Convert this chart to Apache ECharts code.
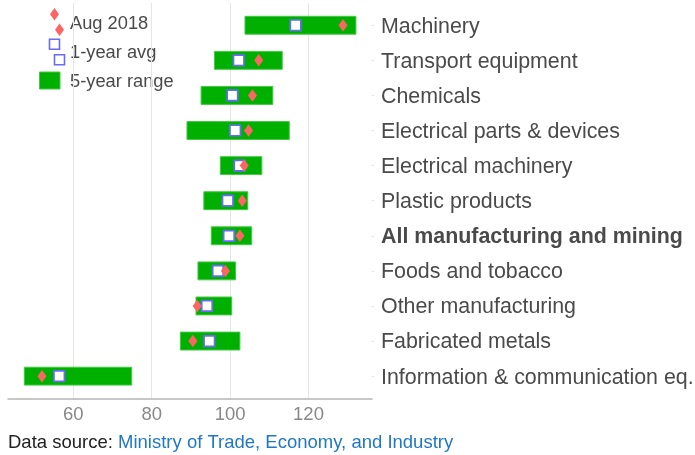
<!DOCTYPE html>
<html>
<head>
<meta charset="utf-8">
<script src="https://cdn.jsdelivr.net/npm/echarts@6/dist/echarts.min.js"></script>
<style>html,body{margin:0;padding:0;background:#fff}#c{width:695px;height:455px}</style>
</head>
<body>
<div id="c"></div>
<script>
const categories = ['Machinery','Transport equipment','Chemicals','Electrical parts & devices','Electrical machinery','Plastic products','All manufacturing and mining','Foods and tobacco','Other manufacturing','Fabricated metals','Information & communication eq.'];
const rangeLow  = [103.8, 96.0, 92.6, 89.0, 97.5, 93.3, 95.2, 91.8, 91.3, 87.3, 47.5];
const rangeHigh = [132.1, 113.3, 110.9, 115.1, 108.1, 104.5, 105.5, 101.4, 100.4, 102.5, 74.9];
const avg1y     = [116.7, 102.2, 100.6, 101.3, 102.4, 99.4, 99.7, 96.9, 94.1, 94.7, 56.4];
const aug2018   = [128.8, 107.3, 105.7, 104.7, 103.6, 103.1, 102.5, 98.8, 91.6, 90.5, 52.0];
const legendLabels = ['Aug 2018', '1-year avg', '5-year range'];
const boldCategory = 'All manufacturing and mining';

const X_MIN = 43.34, X_MAX = 136.2;
const FONT = '"Liberation Sans", Arial, Helvetica, sans-serif';
const GREEN = '#00b000', RED = '#ff6464', BLUE = '#6a6aff';

const chart = echarts.init(document.getElementById('c'), null, {renderer: 'canvas'});

const rangeData = categories.map((c, i) => [i, rangeLow[i], rangeHigh[i]]);

function diamond(cx, cy, w, h) {
  return {type: 'polygon', shape: {points: [[cx, cy - h/2], [cx + w/2, cy], [cx, cy + h/2], [cx - w/2, cy]]}, style: {fill: RED}};
}
function square(cx, cy, s) {
  return {type: 'rect', shape: {x: cx - s/2, y: cy - s/2, width: s, height: s}, style: {fill: '#fff', stroke: BLUE, lineWidth: 1.6}};
}

const option = {
  animation: false,
  textStyle: {fontFamily: FONT},
  grid: [
    {left: 8, right: 323, top: 7.7, bottom: 61.3, containLabel: false, outerBoundsMode: 'none'},
    {left: 8, right: 323, top: 3, bottom: 56.5, containLabel: false, outerBoundsMode: 'none'}
  ],
  xAxis: [
    {gridIndex: 0, type: 'value', min: X_MIN, max: X_MAX, show: false},
    {gridIndex: 1, type: 'value', min: X_MIN, max: X_MAX, splitNumber: 5,
     axisLine: {show: true, onZero: false, lineStyle: {color: '#b5b5b5', width: 1.5}},
     axisTick: {show: false},
     axisLabel: {color: '#888', fontSize: 18.5, fontFamily: FONT, margin: 7, showMinLabel: false, showMaxLabel: false},
     splitLine: {show: true, showMinLine: false, showMaxLine: false, lineStyle: {color: '#e6e6e6', width: 1}}}
  ],
  yAxis: [
    {gridIndex: 0, type: 'category', data: categories, inverse: true, position: 'right',
     axisLine: {show: false},
     axisTick: {show: true, length: 1.5, lineStyle: {color: '#d8d8d8'}, alignWithLabel: true},
     axisLabel: {color: '#4a4a4a', fontSize: 21.4, fontFamily: FONT, margin: 9, padding: [3, 0, 0, 0],
       formatter: v => v === boldCategory ? '{b|' + v + '}' : v,
       rich: {b: {fontWeight: 'bold', fontSize: 21.4, color: '#4a4a4a', fontFamily: FONT}}},
     splitLine: {show: false}},
    {gridIndex: 1, type: 'value', show: false, min: 0, max: 1}
  ],
  series: [
    {
      name: legendLabels[2], type: 'custom', xAxisIndex: 0, yAxisIndex: 0,
      data: rangeData,
      encode: {y: 0, x: [1, 2]},
      renderItem: function (params, api) {
        const idx = api.value(0);
        const p0 = api.coord([api.value(1), idx]);
        const p1 = api.coord([api.value(2), idx]);
        const h = api.size([0, 1])[1] * 0.51;
        return {type: 'rect', shape: {x: p0[0], y: p0[1] - h/2, width: p1[0] - p0[0], height: h},
                style: {fill: GREEN, stroke: '#45c845', lineWidth: 1}};
      },
      z: 2
    },
    {
      name: legendLabels[1], type: 'scatter', xAxisIndex: 0, yAxisIndex: 0,
      data: avg1y.map((v, i) => [v, i]),
      symbol: 'rect', symbolSize: 10.5,
      itemStyle: {color: '#fff', borderColor: BLUE, borderWidth: 1.7, opacity: 1},
      z: 3
    },
    {
      name: legendLabels[0], type: 'scatter', xAxisIndex: 0, yAxisIndex: 0,
      data: aug2018.map((v, i) => [v, i]),
      symbol: 'diamond', symbolSize: [9, 12.5],
      itemStyle: {color: RED, opacity: 1},
      z: 4
    }
  ],
  title: {
    left: 8, top: 433, padding: 0,
    text: '{a|Data source: }{b|Ministry of Trade, Economy, and Industry}',
    textStyle: {fontWeight: 'normal', rich: {
      a: {color: '#222', fontSize: 18.5, fontFamily: FONT, fontWeight: 'normal'},
      b: {color: '#1f78c1', fontSize: 18.5, fontFamily: FONT, fontWeight: 'normal'}
    }}
  },
  graphic: [
    diamond(54.5, 14.3, 9, 12.5),
    diamond(59.5, 29.7, 9, 12.5),
    square(54.5, 44.3, 10),
    square(59.5, 59.8, 10),
    {type: 'rect', shape: {x: 39.5, y: 72, width: 20.5, height: 17}, style: {fill: GREEN, stroke: '#45c845', lineWidth: 1}},
    {type: 'text', x: 70, y: 24, style: {text: legendLabels[0], fill: '#4a4a4a', font: '18.3px ' + FONT, verticalAlign: 'middle'}},
    {type: 'text', x: 70, y: 53, style: {text: legendLabels[1], fill: '#4a4a4a', font: '18.3px ' + FONT, verticalAlign: 'middle'}},
    {type: 'text', x: 70, y: 81.5, style: {text: legendLabels[2], fill: '#4a4a4a', font: '18.3px ' + FONT, verticalAlign: 'middle'}}
  ]
};
chart.setOption(option);
</script>
</body>
</html>
